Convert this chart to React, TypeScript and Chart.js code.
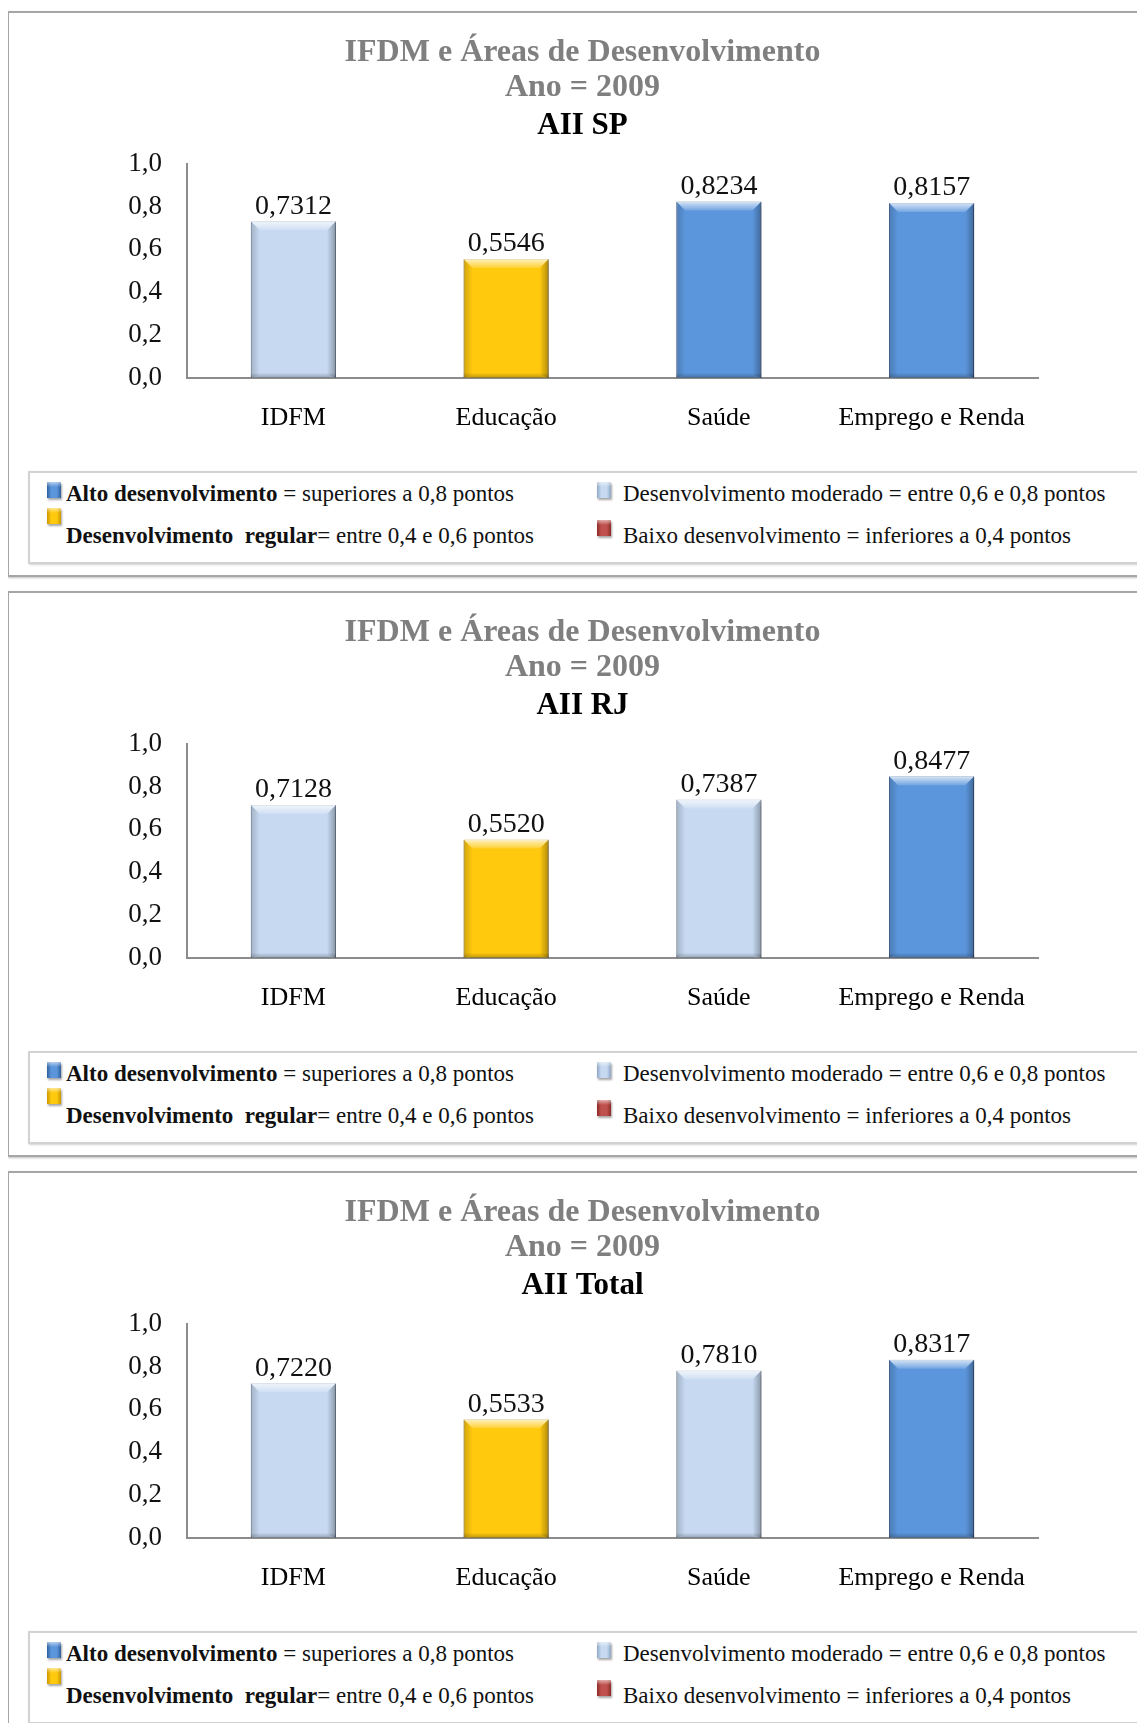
import React, { useEffect, useRef } from "react";
import { Chart, registerables } from "chart.js";

Chart.register(...registerables);

// ---- data ----
const categories = ["IDFM", "Educação", "Saúde", "Emprego e Renda"];
const titleLines = ["IFDM e Áreas de Desenvolvimento", "Ano = 2009"];
const regionNames = ["AII SP", "AII RJ", "AII Total"];
const valuesSP = [0.7312, 0.5546, 0.8234, 0.8157];
const valuesRJ = [0.7128, 0.552, 0.7387, 0.8477];
const valuesTotal = [0.722, 0.5533, 0.781, 0.8317];
const yTickValues = [0, 0.2, 0.4, 0.6, 0.8, 1.0];

// development classes (legend key)
const classNames = ["alto", "moderado", "regular", "baixo"];
const classLowerBounds = [0.8, 0.6, 0.4, 0];
const classFill = ["#5b96dc", "#c6d9f1", "#ffc90e", "#c0504d"];
const classEdge = ["#2f5f9c", "#8ea6c4", "#c99600", "#8c2a27"];
const classBold = ["Alto desenvolvimento", "", "Desenvolvimento  regular", ""];
const classText = [
  " = superiores a 0,8 pontos",
  "Desenvolvimento moderado = entre 0,6 e 0,8 pontos",
  "= entre 0,4 e 0,6 pontos",
  "Baixo desenvolvimento = inferiores a 0,4 pontos",
];

const SERIF = '"Liberation Serif", "Times New Roman", serif';

function classOf(v: number): number {
  for (let i = 0; i < classLowerBounds.length; i++) {
    if (v > classLowerBounds[i] || (i > 0 && v >= classLowerBounds[i])) return i;
  }
  return classLowerBounds.length - 1;
}

const fmt = (v: number, d: number) => v.toFixed(d).replace(".", ",");

// soft bevel + drop shadow on the bars, and value labels above them
const bevelPlugin = {
  id: "bevel",
  beforeDatasetDraw(chart: any) {
    const ctx = chart.ctx;
    ctx.save();
    ctx.shadowColor = "rgba(0,0,0,0.35)";
    ctx.shadowBlur = 5;
    ctx.shadowOffsetX = 2;
    ctx.shadowOffsetY = 2;
  },
  afterDatasetDraw(chart: any) {
    const ctx = chart.ctx;
    ctx.restore();
    const meta = chart.getDatasetMeta(0);
    meta.data.forEach((el: any) => {
      const L = el.x - el.width / 2;
      const R = el.x + el.width / 2;
      const T = el.y;
      const B = el.base;
      const s = 9;
      ctx.save();
      // top face (light)
      let g = ctx.createLinearGradient(0, T, 0, T + s);
      g.addColorStop(0, "rgba(255,255,255,0.75)");
      g.addColorStop(1, "rgba(255,255,255,0.15)");
      ctx.fillStyle = g;
      ctx.beginPath();
      ctx.moveTo(L, T);
      ctx.lineTo(R, T);
      ctx.lineTo(R - s, T + s);
      ctx.lineTo(L + s, T + s);
      ctx.closePath();
      ctx.fill();
      // left face
      g = ctx.createLinearGradient(L, 0, L + s, 0);
      g.addColorStop(0, "rgba(0,0,0,0.18)");
      g.addColorStop(1, "rgba(0,0,0,0.0)");
      ctx.fillStyle = g;
      ctx.beginPath();
      ctx.moveTo(L, T);
      ctx.lineTo(L + s, T + s);
      ctx.lineTo(L + s, B - 3);
      ctx.lineTo(L, B);
      ctx.closePath();
      ctx.fill();
      // right face
      g = ctx.createLinearGradient(R - s, 0, R, 0);
      g.addColorStop(0, "rgba(0,0,0,0.0)");
      g.addColorStop(1, "rgba(0,0,0,0.3)");
      ctx.fillStyle = g;
      ctx.beginPath();
      ctx.moveTo(R, T);
      ctx.lineTo(R - s, T + s);
      ctx.lineTo(R - s, B - 3);
      ctx.lineTo(R, B);
      ctx.closePath();
      ctx.fill();
      // bottom edge
      g = ctx.createLinearGradient(0, B - 5, 0, B);
      g.addColorStop(0, "rgba(0,0,0,0)");
      g.addColorStop(1, "rgba(0,0,0,0.25)");
      ctx.fillStyle = g;
      ctx.fillRect(L, B - 5, R - L, 5);
      ctx.restore();
    });
  },
  afterDatasetsDraw(chart: any) {
    const ctx = chart.ctx;
    const meta = chart.getDatasetMeta(0);
    const data = chart.data.datasets[0].data as number[];
    ctx.save();
    ctx.font = `28px ${SERIF}`;
    ctx.fillStyle = "#111";
    ctx.textAlign = "center";
    ctx.textBaseline = "bottom";
    meta.data.forEach((el: any, i: number) => {
      ctx.fillText(fmt(data[i], 4), el.x, el.y - 1);
    });
    ctx.restore();
  },
};

function LegendKey() {
  const iconPos = [
    { left: 17, top: 9 },
    { left: 567, top: 9 },
    { left: 17, top: 35 },
    { left: 567, top: 47 },
  ];
  const textPos = [
    { left: 36, top: 21 },
    { left: 593, top: 21 },
    { left: 36, top: 63 },
    { left: 593, top: 63 },
  ];
  // order of the key: alto, moderado, regular, baixo
  return (
    <div
      style={{
        position: "relative",
        boxSizing: "border-box",
        marginLeft: 19,
        marginTop: 12,
        width: 1113,
        height: 93,
        border: "2px solid #d2d2d2",
        boxShadow: "1px 1px 2px rgba(0,0,0,0.18)",
        fontFamily: SERIF,
        color: "#111",
      }}
    >
      {classNames.map((name, i) => (
        <React.Fragment key={name}>
          <span
            style={{
              position: "absolute",
              left: iconPos[i].left,
              top: iconPos[i].top,
              width: 14,
              height: 16,
              background: `linear-gradient(180deg, rgba(255,255,255,0.55) 0px, rgba(255,255,255,0.1) 4px, rgba(0,0,0,0) 5px), linear-gradient(90deg, ${classEdge[i]} 0%, ${classFill[i]} 30%, ${classFill[i]} 70%, ${classEdge[i]} 100%)`,
              boxShadow: "1px 2px 2px rgba(0,0,0,0.35)",
            }}
          />
          <div
            style={{
              position: "absolute",
              left: textPos[i].left,
              top: textPos[i].top - 13,
              height: 26,
              lineHeight: "26px",
              fontSize: 23,
              whiteSpace: "pre",
            }}
          >
            {classBold[i] ? <b>{classBold[i]}</b> : null}
            {classText[i]}
          </div>
        </React.Fragment>
      ))}
    </div>
  );
}

function Panel({ region, values }: { region: string; values: number[] }) {
  const ref = useRef<HTMLCanvasElement>(null);
  useEffect(() => {
    const cls = values.map(classOf);
    const chart = new Chart(ref.current as HTMLCanvasElement, {
      type: "bar",
      data: {
        labels: categories,
        datasets: [
          {
            data: values,
            backgroundColor: cls.map((c) => classFill[c]),
            borderColor: cls.map((c) => classEdge[c]),
            borderWidth: 1,
            categoryPercentage: 1,
            barPercentage: 0.4,
          },
        ],
      },
      plugins: [bevelPlugin],
      options: {
        animation: false,
        responsive: true,
        maintainAspectRatio: false,
        layout: { padding: { left: 118, right: 107, top: 0, bottom: 0 } },
        plugins: {
          legend: { display: false },
          tooltip: { enabled: false },
          title: {
            display: true,
            text: titleLines,
            color: "#7f7f7f",
            font: { family: SERIF, size: 32, weight: "bold", lineHeight: 1.1 },
            padding: { top: 22, bottom: 2 },
          },
          subtitle: {
            display: true,
            text: region,
            color: "#000",
            font: { family: SERIF, size: 31, weight: "bold", lineHeight: 1.2 },
            padding: { top: 0, bottom: 19 },
          },
        },
        scales: {
          x: {
            grid: { display: false, drawTicks: false },
            border: { color: "#8c8c8c", width: 2 },
            ticks: { font: { family: SERIF, size: 26 }, color: "#000", padding: 25 },
          },
          y: {
            min: yTickValues[0],
            max: yTickValues[yTickValues.length - 1],
            afterBuildTicks: (scale: any) => {
              scale.ticks = yTickValues.map((v) => ({ value: v }));
            },
            // labels hang into the left padding; keep the axis box narrow
            afterFit: (scale: any) => {
              scale.width = 60;
            },
            grid: { display: false, drawTicks: false },
            border: { color: "#8c8c8c", width: 2 },
            ticks: {
              font: { family: SERIF, size: 27 },
              color: "#111",
              padding: 25,
              callback: (v: any) => fmt(Number(v), 1),
            },
          },
        },
      },
    } as any);
    return () => chart.destroy();
  }, [region, values]);

  return (
    <div
      style={{
        boxSizing: "border-box",
        width: 1140,
        height: 566,
        border: "2px solid #a6a6a6",
        boxShadow: "1px 1px 2px rgba(0,0,0,0.25)",
        marginBottom: 14,
        background: "#fff",
      }}
    >
      <div style={{ position: "relative", width: 1136, height: 446 }}>
        <canvas ref={ref} />
      </div>
      <LegendKey />
    </div>
  );
}

export default function App() {
  const series = [valuesSP, valuesRJ, valuesTotal];
  return (
    <div
      style={{
        boxSizing: "border-box",
        paddingTop: 3,
        width: 1138,
        height: 1715,
        marginLeft: -1,
        overflow: "hidden",
        background: "#fff",
      }}
    >
      {regionNames.map((r, i) => (
        <Panel key={r} region={r} values={series[i]} />
      ))}
    </div>
  );
}
